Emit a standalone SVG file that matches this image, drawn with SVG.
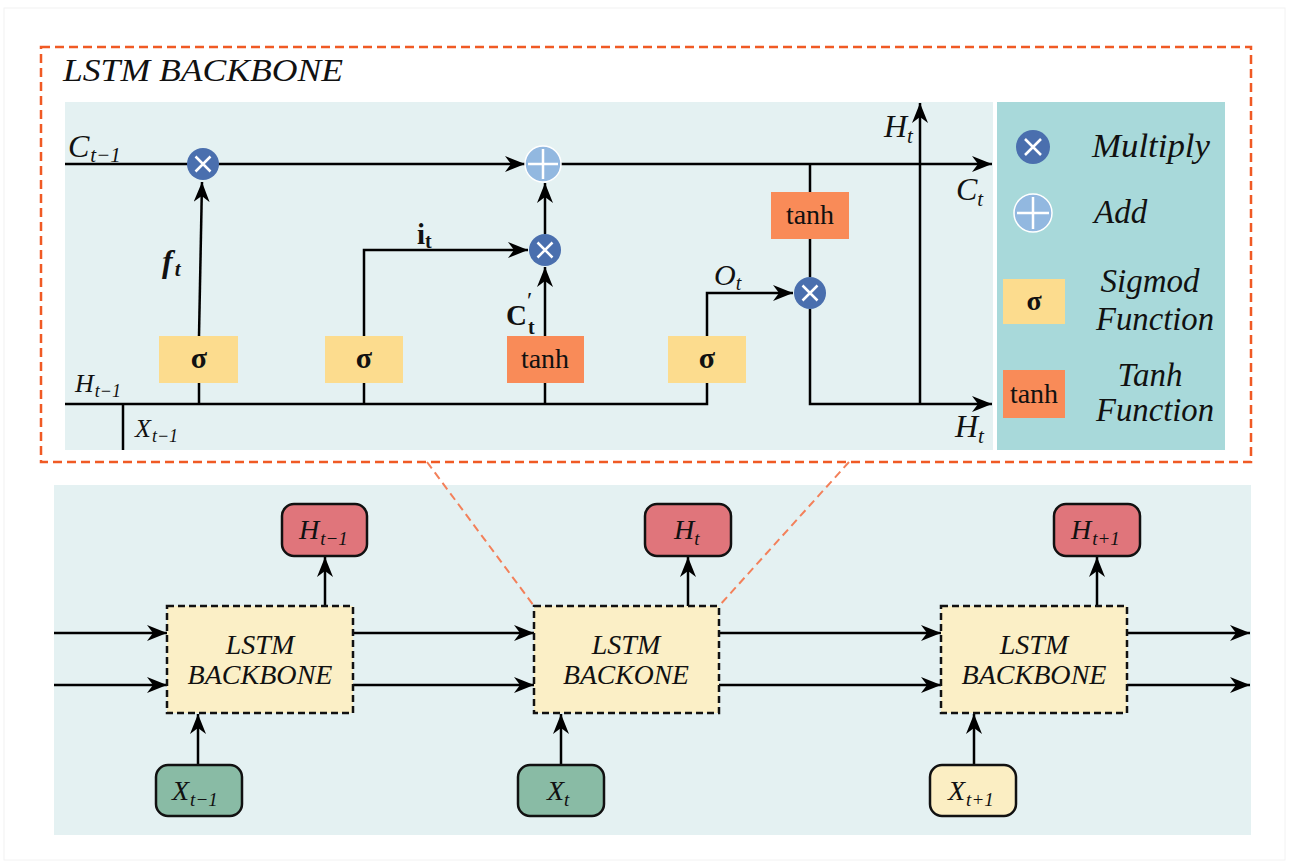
<svg xmlns="http://www.w3.org/2000/svg" width="1290" height="865" viewBox="0 0 1290 865">
<defs>
<marker id="ah" markerUnits="userSpaceOnUse" markerWidth="22" markerHeight="18" refX="20" refY="8" orient="auto">
<path d="M0,0 L20,8 L0,16 L6,8 z" fill="#000"/>
</marker>
<style>
.ln{stroke:#000;stroke-width:2.5;fill:none}
.ar{stroke:#000;stroke-width:2.5;fill:none;marker-end:url(#ah)}
.t{font-family:"Liberation Serif","DejaVu Serif",serif;fill:#111}
.it{font-style:italic}
.bd{font-weight:bold}
.sig{fill:#fcdc8e}
.tanh{fill:#f98b58}
.mul{fill:#4a6fae}
.add{fill:#92b8e0;stroke:#fff;stroke-width:1.5}
.cross{stroke:#fff;stroke-width:2.5}
.hbox{fill:#e0757b;stroke:#111;stroke-width:2.5}
.xbox{fill:#89bba5;stroke:#111;stroke-width:2.5}
.ybox{fill:#fbeec3;stroke:#111;stroke-width:2.5}
.lstm{fill:#fbefc6;stroke:#111;stroke-width:2.5;stroke-dasharray:7 4}
</style>
</defs>
<rect x="0" y="0" width="1290" height="865" fill="#fff"/>
<rect x="4" y="8" width="1281" height="852" fill="none" stroke="#f2f2f2" stroke-width="1"/>

<!-- top zoom frame -->
<rect x="41" y="47" width="1210" height="415" fill="none" stroke="#f05a24" stroke-width="2.5" stroke-dasharray="9 5"/>
<text class="t it" x="63" y="81" font-size="32" textLength="280" lengthAdjust="spacingAndGlyphs">LSTM BACKBONE</text>
<rect x="65" y="102" width="928" height="348" fill="#e4f1f2"/>
<rect x="997" y="102" width="228" height="348" fill="#a8d9da"/>

<!-- bottom panel -->
<rect x="54" y="485" width="1197" height="350" fill="#e4f1f2"/>

<g id="connectors">
<!-- zoom guides -->
<line x1="427" y1="462" x2="534" y2="606" stroke="#f3805a" stroke-width="2" stroke-dasharray="8 5"/>
<line x1="849" y1="462" x2="719" y2="606" stroke="#f3805a" stroke-width="2" stroke-dasharray="8 5"/>
<!-- LSTM internals -->
<line class="ar" x1="65" y1="164" x2="525" y2="164"/>
<line class="ar" x1="561" y1="164" x2="992" y2="164"/>
<line class="ar" x1="199" y1="336" x2="202" y2="182"/>
<path class="ar" d="M364,336 V250 H528"/>
<line class="ar" x1="545" y1="336" x2="545" y2="267"/>
<line class="ar" x1="545" y1="234" x2="545" y2="183"/>
<path class="ar" d="M707,336 V293 H793"/>
<line class="ln" x1="810" y1="164" x2="810" y2="192"/>
<line class="ln" x1="810" y1="239" x2="810" y2="277"/>
<path class="ar" d="M810,309 V404 H992"/>
<line class="ar" x1="920" y1="404" x2="920" y2="103"/>
<path class="ln" d="M65,404 H707 V383"/>
<line class="ln" x1="199" y1="383" x2="199" y2="404"/>
<line class="ln" x1="364" y1="383" x2="364" y2="404"/>
<line class="ln" x1="545" y1="383" x2="545" y2="404"/>
<line class="ln" x1="123" y1="404" x2="123" y2="450"/>
<!-- sequence -->
<line class="ar" x1="54" y1="633" x2="167" y2="633"/>
<line class="ar" x1="54" y1="685" x2="167" y2="685"/>
<line class="ar" x1="353" y1="633" x2="534" y2="633"/>
<line class="ar" x1="353" y1="685" x2="534" y2="685"/>
<line class="ar" x1="719" y1="633" x2="941" y2="633"/>
<line class="ar" x1="719" y1="685" x2="941" y2="685"/>
<line class="ar" x1="1127" y1="633" x2="1250" y2="633"/>
<line class="ar" x1="1127" y1="685" x2="1250" y2="685"/>
<line class="ar" x1="325" y1="606" x2="325" y2="557"/>
<line class="ar" x1="688" y1="606" x2="688" y2="557"/>
<line class="ar" x1="1097" y1="606" x2="1097" y2="557"/>
<line class="ar" x1="198" y1="765" x2="198" y2="714"/>
<line class="ar" x1="561" y1="765" x2="561" y2="714"/>
<line class="ar" x1="974" y1="765" x2="974" y2="714"/>
</g>

<!-- internal labels -->
<g id="labels">
<text class="t it" x="68" y="157" font-size="32">C<tspan font-size="21" dy="5" dx="1">t−1</tspan></text>
<text class="t it bd" x="162" y="272" font-size="32">f<tspan font-size="21" dy="4" dx="2">t</tspan></text>
<text class="t bd" x="417" y="244" font-size="29">i<tspan font-size="20" dy="4">t</tspan></text>
<text class="t bd" x="506" y="325" font-size="29">C</text>
<text class="t" x="527" y="308" font-size="24">′</text>
<text class="t bd" x="528" y="334" font-size="20">t</text>
<text class="t it" x="714" y="285" font-size="30">O<tspan font-size="20" dy="5">t</tspan></text>
<text class="t it" x="75" y="392" font-size="26">H<tspan font-size="18" dy="5" dx="1">t−1</tspan></text>
<text class="t it" x="135" y="437" font-size="26">X<tspan font-size="18" dy="5" dx="1">t−1</tspan></text>
<text class="t it" x="884" y="137" font-size="32">H<tspan font-size="21" dy="6">t</tspan></text>
<text class="t it" x="956" y="200" font-size="32">C<tspan font-size="21" dy="6">t</tspan></text>
<text class="t it" x="955" y="437" font-size="32">H<tspan font-size="21" dy="6">t</tspan></text>
</g>

<g id="sigma-f"><rect class="sig" x="159" y="336" width="79" height="47"/><text class="t bd" x="199" y="368" font-size="30" text-anchor="middle">σ</text></g>
<g id="sigma-i"><rect class="sig" x="325" y="336" width="78" height="47"/><text class="t bd" x="364" y="368" font-size="30" text-anchor="middle">σ</text></g>
<g id="tanh-c"><rect class="tanh" x="507" y="336" width="77" height="47"/><text class="t" x="545" y="368" font-size="28" text-anchor="middle">tanh</text></g>
<g id="sigma-o"><rect class="sig" x="668" y="336" width="78" height="47"/><text class="t bd" x="707" y="368" font-size="30" text-anchor="middle">σ</text></g>
<g id="tanh-h"><rect class="tanh" x="771" y="192" width="78" height="47"/><text class="t" x="810" y="224" font-size="28" text-anchor="middle">tanh</text></g>

<g id="mul-f"><circle class="mul" cx="203" cy="164" r="16"/><path class="cross" d="M195.5,156.5 L210.5,171.5 M210.5,156.5 L195.5,171.5"/></g>
<g id="add-c"><circle class="add" cx="543" cy="164" r="18"/><path class="cross" d="M528,164 H558 M543,149 V179" stroke-width="2"/></g>
<g id="mul-i"><circle class="mul" cx="545" cy="250" r="16"/><path class="cross" d="M537.5,242.5 L552.5,257.5 M552.5,242.5 L537.5,257.5"/></g>
<g id="mul-o"><circle class="mul" cx="810" cy="293" r="16"/><path class="cross" d="M802.5,285.5 L817.5,300.5 M817.5,285.5 L802.5,300.5"/></g>

<!-- legend -->
<g id="legend-multiply"><circle class="mul" cx="1033" cy="147" r="17"/><path class="cross" d="M1025,139 L1041,155 M1041,139 L1025,155"/><text class="t it" x="1092" y="157" font-size="33" textLength="118" lengthAdjust="spacingAndGlyphs">Multiply</text></g>
<g id="legend-add"><circle class="add" cx="1033" cy="213" r="19"/><path class="cross" d="M1017,213 H1049 M1033,197 V229" stroke-width="2"/><text class="t it" x="1094" y="223" font-size="33">Add</text></g>
<g id="legend-sigmoid"><rect class="sig" x="1003" y="279" width="62" height="45"/><text class="t bd" x="1034" y="310" font-size="28" text-anchor="middle">σ</text><text class="t it" x="1150" y="292" font-size="33" text-anchor="middle">Sigmod</text><text class="t it" x="1155" y="330" font-size="33" text-anchor="middle" textLength="118" lengthAdjust="spacingAndGlyphs">Function</text></g>
<g id="legend-tanh"><rect class="tanh" x="1003" y="370" width="62" height="48"/><text class="t" x="1034" y="403" font-size="28" text-anchor="middle">tanh</text><text class="t it" x="1150" y="386" font-size="33" text-anchor="middle">Tanh</text><text class="t it" x="1155" y="421" font-size="33" text-anchor="middle" textLength="118" lengthAdjust="spacingAndGlyphs">Function</text></g>

<!-- sequence nodes -->
<g id="lstm1"><rect class="lstm" x="167" y="606" width="186" height="107"/><text class="t it" x="260" y="654" font-size="28" text-anchor="middle">LSTM</text><text class="t it" x="260" y="684" font-size="28" text-anchor="middle" textLength="145" lengthAdjust="spacingAndGlyphs">BACKBONE</text></g>
<g id="lstm2"><rect class="lstm" x="534" y="606" width="185" height="107"/><text class="t it" x="626" y="654" font-size="28" text-anchor="middle">LSTM</text><text class="t it" x="626" y="684" font-size="28" text-anchor="middle" textLength="126" lengthAdjust="spacingAndGlyphs">BACKONE</text></g>
<g id="lstm3"><rect class="lstm" x="941" y="606" width="186" height="107"/><text class="t it" x="1034" y="654" font-size="28" text-anchor="middle">LSTM</text><text class="t it" x="1034" y="684" font-size="28" text-anchor="middle" textLength="145" lengthAdjust="spacingAndGlyphs">BACKBONE</text></g>

<g id="h-prev"><rect class="hbox" x="282" y="504" width="85" height="52" rx="12"/><text class="t it" x="299" y="539" font-size="28">H<tspan font-size="19" dy="6" dx="1">t−1</tspan></text></g>
<g id="h-cur"><rect class="hbox" x="645" y="504" width="86" height="52" rx="12"/><text class="t it" x="674" y="539" font-size="28">H<tspan font-size="19" dy="6">t</tspan></text></g>
<g id="h-next"><rect class="hbox" x="1054" y="504" width="86" height="52" rx="12"/><text class="t it" x="1071" y="539" font-size="28">H<tspan font-size="19" dy="6" dx="1">t+1</tspan></text></g>

<g id="x-prev"><rect class="xbox" x="156" y="765" width="86" height="51" rx="12"/><text class="t it" x="172" y="800" font-size="28">X<tspan font-size="19" dy="6" dx="1">t−1</tspan></text></g>
<g id="x-cur"><rect class="xbox" x="518" y="765" width="86" height="51" rx="12"/><text class="t it" x="547" y="800" font-size="28">X<tspan font-size="19" dy="6">t</tspan></text></g>
<g id="x-next"><rect class="ybox" x="930" y="765" width="86" height="51" rx="12"/><text class="t it" x="948" y="800" font-size="28">X<tspan font-size="19" dy="6" dx="1">t+1</tspan></text></g>
</svg>
